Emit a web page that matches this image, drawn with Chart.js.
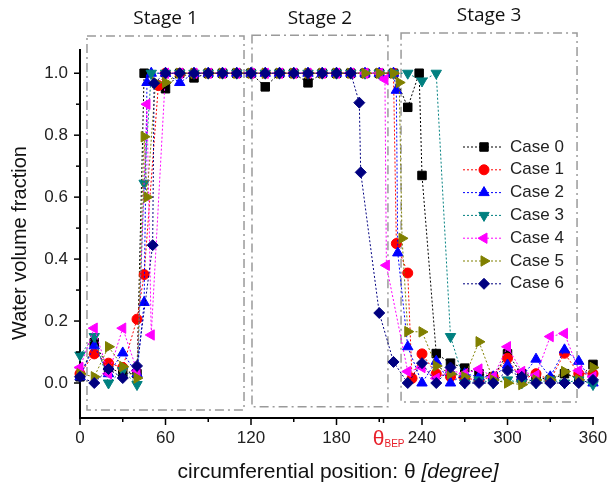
<!DOCTYPE html>
<html>
<head>
<meta charset="utf-8">
<script src="https://cdn.jsdelivr.net/npm/chart.js@4.4.1/dist/chart.umd.min.js"></script>
<style>
  html, body { margin: 0; padding: 0; background: #fff; }
</style>
</head>
<body>
<canvas id="myChart" width="610" height="486"></canvas>
<script>
// circumferential position (degree) and water volume fraction for each case
const thetaCase0 = [0,10,20,30,40,45,60,70,80,90,100,110,120,130,140,150,160,170,180,190,200,210,220,230,238,240,250,260,270,280,290,300,310,320,330,340,350,360];
const fracCase0  = [0.02,0.13,0.05,0.03,0.03,1.0,0.95,1.0,0.985,1.0,1.0,1.0,1.0,0.956,1.0,1.0,0.969,1.0,1.0,1.0,1.0,1.0,1.0,0.89,1.0,0.67,0.095,0.064,0.048,0.03,0.02,0.094,0.03,0.02,0.01,0.03,0.015,0.06];

const thetaCase1 = [0,10,20,30,40,45,55,60,70,80,90,100,110,120,130,140,150,160,170,180,190,200,210,220,222,230,233,240,250,260,270,280,290,300,310,320,330,340,350,360];
const fracCase1  = [0.03,0.094,0.064,0.05,0.206,0.35,0.96,1.0,1.0,1.0,1.0,1.0,1.0,1.0,1.0,1.0,1.0,1.0,1.0,1.0,1.0,1.0,1.0,1.0,0.45,0.355,0.015,0.094,0.03,0.02,0.015,0.01,0.02,0.08,0.01,0.03,0.01,0.096,0.03,0.03];

const thetaCase2 = [0,10,20,30,40,45,47,50,60,70,80,90,100,110,120,130,140,150,160,170,180,190,200,210,220,222,223,230,240,250,260,270,280,290,300,310,320,330,340,350,360];
const fracCase2  = [0.02,0.12,0.03,0.097,0.03,0.26,0.97,1.0,1.0,0.97,1.0,1.0,1.0,1.0,1.0,1.0,1.0,1.0,1.0,1.0,1.0,1.0,1.0,1.0,1.0,0.945,0.42,0.117,0.0,0.07,0.0,0.03,0.02,0.02,0.058,0.02,0.077,0.02,0.107,0.07,0.0];

const thetaCase3 = [0,10,20,30,40,45,50,60,70,80,90,100,110,120,130,140,150,160,170,180,190,200,210,220,230,240,250,260,270,280,290,300,310,320,330,340,350,360];
const fracCase3  = [0.09,0.15,0.0,0.04,-0.005,0.645,1.0,1.0,1.0,1.0,1.0,1.0,1.0,1.0,1.0,1.0,1.0,1.0,1.0,1.0,1.0,1.0,1.0,1.0,1.0,0.975,1.0,0.15,0.0,0.01,0.0,0.01,0.0,0.0,0.01,0.0,0.01,-0.005];

const thetaCase4 = [0,10,20,30,40,47,50,60,70,80,90,100,110,120,130,140,150,160,170,180,190,200,210,214,215,230,240,250,260,270,280,290,300,310,320,330,340,350,360];
const fracCase4  = [0.05,0.177,0.03,0.177,0.04,0.90,0.155,1.0,1.0,1.0,1.0,1.0,1.0,1.0,1.0,1.0,1.0,1.0,1.0,1.0,1.0,1.0,1.0,0.98,0.38,0.037,0.05,0.015,0.04,0.03,0.045,0.02,0.117,0.037,0.025,0.15,0.16,0.04,0.02];

const thetaCase5 = [0,10,20,30,40,45,47,53,60,70,80,90,100,110,120,130,140,150,160,170,180,190,200,210,220,224,226,230,240,250,260,270,280,290,300,310,320,330,340,350,360];
const fracCase5  = [0.03,0.02,0.117,0.053,0.016,0.795,0.60,0.97,0.97,1.0,1.0,1.0,1.0,1.0,1.0,1.0,1.0,1.0,1.0,1.0,1.0,1.0,1.0,1.0,1.0,0.97,0.467,0.166,0.165,0.055,0.03,0.02,0.133,0.01,0.0,-0.005,0.01,0.01,0.037,0.01,0.05];

const thetaCase6 = [0,10,20,30,40,51,52,60,70,80,90,100,110,120,130,140,150,160,170,180,190,196,197,210,220,230,240,250,260,270,280,290,300,310,320,330,340,350,360];
const fracCase6  = [0.02,0.0,0.045,0.016,0.055,0.445,0.968,1.0,1.0,1.0,1.0,1.0,1.0,1.0,1.0,1.0,1.0,1.0,1.0,1.0,1.0,0.905,0.68,0.226,0.068,0.0,0.064,0.0,0.05,0.0,0.0,0.0,0.04,0.02,0.0,0.0,0.0,0.0,0.01];

const caseNames = ['Case 0', 'Case 1', 'Case 2', 'Case 3', 'Case 4', 'Case 5', 'Case 6'];
const caseTheta = [thetaCase0, thetaCase1, thetaCase2, thetaCase3, thetaCase4, thetaCase5, thetaCase6];
const caseFrac = [fracCase0, fracCase1, fracCase2, fracCase3, fracCase4, fracCase5, fracCase6];

const xTicks = [0, 60, 120, 180, 240, 300, 360];
const yTicks = [0, 0.2, 0.4, 0.6, 0.8, 1.0];
const thetaBEP = 213;

// stage regions in data units (theta, fraction)
const stages = [
    { label: 'Stage 1', from: 4.9, to: 115.1, bottom: -0.087, top: 1.12, labelY: 19 },
    { label: 'Stage 2', from: 120.7, to: 216.1, bottom: -0.077, top: 1.123, labelY: 19 },
    { label: 'Stage 3', from: 225.3, to: 348.8, bottom: -0.061, top: 1.13, labelY: 16 },
];

// marker styles
const caseColors = ['#000000', '#ff0000', '#0000ff', '#008080', '#ff00ff', '#808000', '#000080'];
const caseMarkers = ['rect', 'circle', 'triangle', 'triangle', 'triangle', 'triangle', 'rectRot'];
const caseRotation = [0, 0, 0, 180, -90, 90, 0];
const caseRadius = [6, 5, 6, 6, 6, 6, 5.5];

const SANS = '"Liberation Sans", Arial, sans-serif';

const decorations = {
    id: 'decorations',
    beforeDatasetsDraw(chart) {
        const { ctx, scales: { x, y } } = chart;
        ctx.save();
        ctx.strokeStyle = '#9a9a9a';
        ctx.lineWidth = 1.5;
        ctx.setLineDash([9, 4, 2, 4]);
        stages.forEach(s => {
            const l = x.getPixelForValue(s.from), r = x.getPixelForValue(s.to);
            const t = y.getPixelForValue(s.top), b = y.getPixelForValue(s.bottom);
            ctx.strokeRect(l, t, r - l, b - t);
        });
        ctx.setLineDash([]);
        ctx.fillStyle = '#111';
        ctx.font = '19px "Open Sans", sans-serif';
        ctx.textAlign = 'center';
        ctx.textBaseline = 'middle';
        stages.forEach(s => {
            const cx = (x.getPixelForValue(s.from) + x.getPixelForValue(s.to)) / 2;
            ctx.fillText(s.label, cx, s.labelY);
        });
        ctx.restore();
    },
    afterDraw(chart) {
        const { ctx, scales: { x, y }, chartArea: area } = chart;
        ctx.save();
        ctx.strokeStyle = '#000';
        ctx.lineWidth = 1.5;
        // y ticks (major + minor)
        yTicks.forEach((v, i) => {
            const py = y.getPixelForValue(v);
            ctx.beginPath(); ctx.moveTo(area.left - 6, py); ctx.lineTo(area.left, py); ctx.stroke();
            if (i < yTicks.length - 1) {
                const my = y.getPixelForValue((v + yTicks[i + 1]) / 2);
                ctx.beginPath(); ctx.moveTo(area.left - 4, my); ctx.lineTo(area.left, my); ctx.stroke();
            }
        });
        // x ticks (major + minor + theta_BEP)
        xTicks.forEach((v, i) => {
            const px = x.getPixelForValue(v);
            ctx.beginPath(); ctx.moveTo(px, area.bottom); ctx.lineTo(px, area.bottom + 7); ctx.stroke();
            if (i < xTicks.length - 1) {
                const mx = x.getPixelForValue((v + xTicks[i + 1]) / 2);
                ctx.beginPath(); ctx.moveTo(mx, area.bottom); ctx.lineTo(mx, area.bottom + 4); ctx.stroke();
            }
        });
        const bx = x.getPixelForValue(thetaBEP);
        ctx.beginPath(); ctx.moveTo(bx, area.bottom); ctx.lineTo(bx, area.bottom + 5); ctx.stroke();

        // theta_BEP label
        ctx.fillStyle = '#e8202a';
        ctx.textBaseline = 'alphabetic';
        ctx.textAlign = 'right';
        ctx.font = '21px ' + SANS;
        ctx.fillText('\u03b8', bx + 1, area.bottom + 27);
        ctx.textAlign = 'left';
        ctx.font = '10px ' + SANS;
        ctx.fillText('BEP', bx + 1, area.bottom + 29);

        // x title
        ctx.fillStyle = '#111';
        ctx.textBaseline = 'middle';
        const part1 = 'circumferential position: \u03b8 ';
        const part2 = '[degree]';
        ctx.font = '21px ' + SANS;
        const w1 = ctx.measureText(part1).width;
        ctx.font = 'italic 21px ' + SANS;
        const w2 = ctx.measureText(part2).width;
        let sx = 338 - (w1 + w2) / 2;
        ctx.textAlign = 'left';
        ctx.font = '21px ' + SANS;
        ctx.fillText(part1, sx, 472);
        ctx.font = 'italic 21px ' + SANS;
        ctx.fillText(part2, sx + w1, 472);

        // y title
        ctx.save();
        ctx.translate(20, 243);
        ctx.rotate(-Math.PI / 2);
        ctx.textAlign = 'center';
        ctx.font = '20px ' + SANS;
        ctx.fillText('Water volume fraction', 0, 0);
        ctx.restore();

        // legend
        ctx.textAlign = 'left';
        ctx.textBaseline = 'middle';
        ctx.font = '17px ' + SANS;
        caseNames.forEach((name, i) => {
            const ly = 147 + i * 22.8;
            ctx.strokeStyle = caseColors[i];
            ctx.fillStyle = caseColors[i];
            ctx.lineWidth = 1;
            ctx.setLineDash([2, 2]);
            ctx.beginPath(); ctx.moveTo(463, ly); ctx.lineTo(503, ly); ctx.stroke();
            ctx.setLineDash([]);
            Chart.helpers.drawPoint(ctx, {
                pointStyle: caseMarkers[i], rotation: caseRotation[i],
                radius: caseRadius[i], borderWidth: 1
            }, 484, ly);
            ctx.fillStyle = '#222';
            ctx.fillText(name, 510, ly);
        });
        ctx.restore();
    }
};

const datasets = caseNames.map((name, i) => ({
    label: name,
    data: caseTheta[i].map((t, k) => ({ x: t, y: caseFrac[i][k] })),
    borderColor: caseColors[i],
    backgroundColor: caseColors[i],
    borderWidth: 1,
    borderDash: [2, 2],
    pointStyle: caseMarkers[i],
    pointRotation: caseRotation[i],
    pointRadius: caseRadius[i],
    pointBorderWidth: 1,
    tension: 0,
    clip: false,
    order: caseNames.length - 1 - i,
}));

const config = {
    type: 'line',
    data: { datasets },
    options: {
        responsive: false,
        animation: false,
        layout: { padding: { top: 50, right: 17, left: 0, bottom: 0 } },
        plugins: { legend: { display: false }, tooltip: { enabled: false } },
        scales: {
            x: {
                type: 'linear',
                min: 0, max: 360,
                afterBuildTicks: s => { s.ticks = xTicks.map(v => ({ value: v })); },
                afterFit: s => { s.height = 68; s.paddingLeft = 0; s.paddingRight = 0; },
                grid: { display: false, drawTicks: false },
                border: { display: true, color: '#000', width: 2 },
                ticks: { font: { family: SANS, size: 17 }, color: '#222', padding: 10, maxRotation: 0, autoSkip: false }
            },
            y: {
                min: -0.113, max: 1.075,
                afterBuildTicks: s => { s.ticks = yTicks.map(v => ({ value: v })); },
                afterFit: s => { s.width = 80; s.paddingTop = 0; s.paddingBottom = 0; },
                grid: { display: false, drawTicks: false },
                border: { display: true, color: '#000', width: 2 },
                ticks: { font: { family: SANS, size: 17 }, color: '#222', padding: 12, callback: v => v.toFixed(1) }
            }
        }
    },
    plugins: [decorations]
};

// Render the chart
const ctx = document.getElementById('myChart').getContext('2d');
const myChart = new Chart(ctx, config);
</script>
</body>
</html>
